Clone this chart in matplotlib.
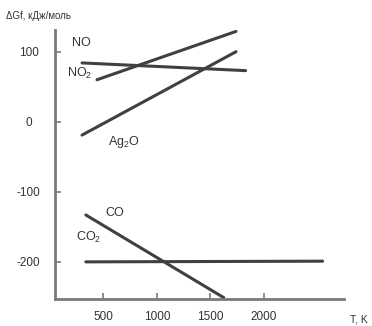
import matplotlib.pyplot as plt

plt.rcParams['font.family'] = ['Liberation Sans', 'DejaVu Sans']
plt.rcParams['mathtext.default'] = 'regular'
plt.rcParams['axes.unicode_minus'] = False

# temperature (K) and Gibbs energy (kJ/mol) end points of each line
no_T = [440, 1740]
no_G = [60, 129]
no2_T = [300, 1830]
no2_G = [84, 73]
ag2o_T = [300, 1740]
ag2o_G = [-19, 100]
co_T = [335, 1625]
co_G = [-133, -251]
co2_T = [335, 2550]
co2_G = [-200, -199]

xticks = [500, 1000, 1500, 2000]
yticks = [-200, -100, 0, 100]

fig = plt.figure(figsize=(3.72, 3.26), dpi=100)
ax = fig.add_axes([55/372, 1 - 299/326, 289/372, 269/326])

col = '#404040'
for T, G in [(no_T, no_G), (no2_T, no2_G), (ag2o_T, ag2o_G), (co_T, co_G), (co2_T, co2_G)]:
    ax.plot(T, G, color=col, linewidth=2.2, solid_capstyle='round')

ax.set_xlim(47, 2750)
ax.set_ylim(-253, 131)

ax.spines['top'].set_visible(False)
ax.spines['right'].set_visible(False)
for s in ['left', 'bottom']:
    ax.spines[s].set_color('#7a7a7a')
    ax.spines[s].set_linewidth(2)

ax.set_xticks(xticks)
ax.set_yticks(yticks)
ax.tick_params(direction='in', length=4, width=1.2, color='#7a7a7a',
               labelsize=8.5, labelcolor='#333333')
ax.tick_params(axis='x', pad=9)
ax.tick_params(axis='y', pad=19)
for lab in ax.get_yticklabels():
    lab.set_horizontalalignment('center')

tc = '#333333'
ax.text(206, 108, 'NO', fontsize=9, color=tc)
ax.text(159, 64, 'NO$_2$', fontsize=9, color=tc)
ax.text(543, -33, 'Ag$_2$O', fontsize=9, color=tc)
ax.text(515, -134, 'CO', fontsize=9, color=tc)
ax.text(243, -170, 'CO$_2$', fontsize=9, color=tc)

fig.text(6/372, 1 - 19/326, 'ΔGf, кДж/моль', fontsize=7, color=tc)
fig.text(350/372, 1 - 322/326, 'T, K', fontsize=7.5, color=tc)

fig.savefig('out.png', dpi=100)
